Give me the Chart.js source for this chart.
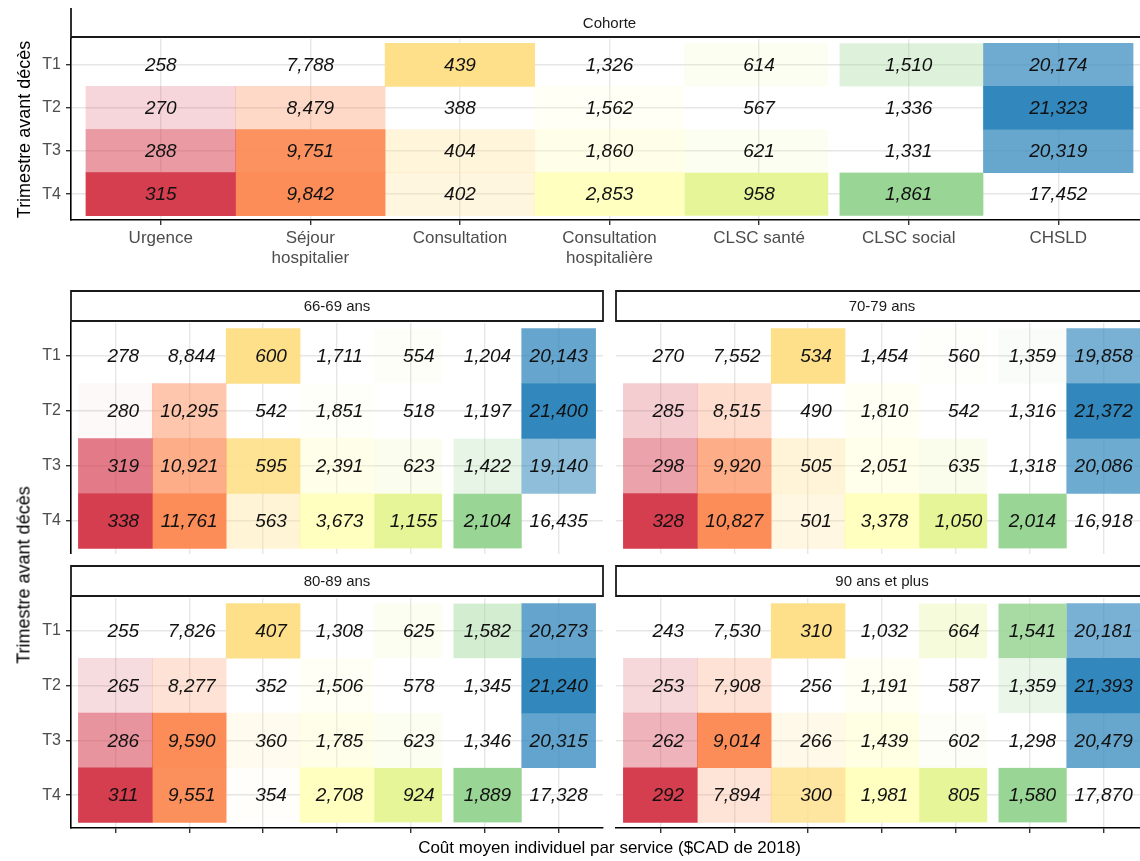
<!DOCTYPE html>
<html lang="fr">
<head>
<meta charset="utf-8">
<title>Coût moyen individuel par service</title>
<script src="https://cdn.jsdelivr.net/npm/chart.js@4.4.1/dist/chart.umd.min.js"></script>
<style>
    html, body { margin: 0; padding: 0; background: #fff; overflow: hidden; width: 1140px; height: 861px; }
    .panneau { position: absolute; }
    .titre { position: absolute; font-family: 'Liberation Sans', Arial, Helvetica, sans-serif; color: #000; white-space: nowrap; }
    #titre-y { left: 24px; top: 575px; font-size: 18px; transform: translate(-50%, -50%) rotate(-90deg); }
    #titre-x { left: 71px; width: 1077px; top: 838px; font-size: 17px; text-align: center; }
</style>
</head>
<body>
<div class="panneau" style="left:0;top:0"><canvas id="cohorte" width="1160" height="272"></canvas></div>
<div class="panneau" style="left:0;top:280px"><canvas id="a6669" width="605" height="274"></canvas></div>
<div class="panneau" style="left:600px;top:280px"><canvas id="a7079" width="560" height="274"></canvas></div>
<div class="panneau" style="left:0;top:555px"><canvas id="a8089" width="605" height="285"></canvas></div>
<div class="panneau" style="left:600px;top:555px"><canvas id="a90" width="560" height="285"></canvas></div>
<div class="titre" id="titre-y">Trimestre avant décès</div>
<div class="titre" id="titre-x">Coût moyen individuel par service ($CAD de 2018)</div>

<script>
// Catégories
const services = ['Urgence', ['Séjour', 'hospitalier'], 'Consultation', ['Consultation', 'hospitalière'], 'CLSC santé', 'CLSC social', 'CHSLD'];
const trimestres = ['T1', 'T2', 'T3', 'T4'];
const couleurs = ['#d53e4f', '#fc8d59', '#fee08b', '#ffffbf', '#e6f598', '#99d594', '#3288bd'];

// Coût moyen par service (une ligne par service, valeurs T1..T4)
const cohorte = [
    [258, 270, 288, 315],
    [7788, 8479, 9751, 9842],
    [439, 388, 404, 402],
    [1326, 1562, 1860, 2853],
    [614, 567, 621, 958],
    [1510, 1336, 1331, 1861],
    [20174, 21323, 20319, 17452]
];
const ans6669 = [
    [278, 280, 319, 338],
    [8844, 10295, 10921, 11761],
    [600, 542, 595, 563],
    [1711, 1851, 2391, 3673],
    [554, 518, 623, 1155],
    [1204, 1197, 1422, 2104],
    [20143, 21400, 19140, 16435]
];
const ans7079 = [
    [270, 285, 298, 328],
    [7552, 8515, 9920, 10827],
    [534, 490, 505, 501],
    [1454, 1810, 2051, 3378],
    [560, 542, 635, 1050],
    [1359, 1316, 1318, 2014],
    [19858, 21372, 20086, 16918]
];
const ans8089 = [
    [255, 265, 286, 311],
    [7826, 8277, 9590, 9551],
    [407, 352, 360, 354],
    [1308, 1506, 1785, 2708],
    [625, 578, 623, 924],
    [1582, 1345, 1346, 1889],
    [20273, 21240, 20315, 17328]
];
const ans90 = [
    [243, 253, 262, 292],
    [7530, 7908, 9014, 7894],
    [310, 256, 266, 300],
    [1032, 1191, 1439, 1981],
    [664, 587, 602, 805],
    [1541, 1359, 1298, 1580],
    [20181, 21393, 20479, 17870]
];

const police = "'Liberation Sans', Arial, Helvetica, sans-serif";

function hexRgb(h) {
    return [1, 3, 5].map(i => parseInt(h.slice(i, i + 2), 16));
}

// intensité relative au min / max de la colonne
function couleurCase(valeurs, k) {
    const col = valeurs[k];
    const min = Math.min(...col), max = Math.max(...col);
    const [r, g, b] = hexRgb(couleurs[k]);
    return ctx => {
        const a = (col[ctx.dataIndex] - min) / (max - min);
        return `rgba(${r},${g},${b},${a.toFixed(3)})`;
    };
}

// Bandeau de facette (2 px au-dessus de la zone du graphique)
const bandeau = {
    id: 'bandeau',
    afterDraw(chart, args, opts) {
        const { ctx, chartArea: ca } = chart;
        const bas = ca.top - 2;
        const haut = bas - opts.hauteur;
        ctx.save();
        ctx.fillStyle = '#fff';
        ctx.fillRect(ca.left, haut, ca.right - ca.left, opts.hauteur);
        ctx.strokeStyle = '#1a1a1a';
        ctx.lineWidth = 1.8;
        ctx.beginPath();
        if (opts.sansHaut) {
            ctx.moveTo(ca.left, haut);
            ctx.lineTo(ca.left, ca.top);
            ctx.moveTo(ca.left, bas);
            ctx.lineTo(ca.right, bas);
        } else {
            ctx.rect(ca.left, haut, ca.right - ca.left, opts.hauteur);
        }
        ctx.stroke();
        ctx.font = `15px ${police}`;
        ctx.fillStyle = '#1a1a1a';
        ctx.textAlign = 'center';
        ctx.textBaseline = 'middle';
        ctx.fillText(opts.texte, (ca.left + ca.right) / 2, haut + opts.hauteur / 2 + 1);
        ctx.restore();
    }
};

// Valeurs écrites dans les cases
const etiquettes = {
    id: 'etiquettes',
    afterDatasetsDraw(chart, args, opts) {
        const ctx = chart.ctx;
        ctx.save();
        ctx.font = `italic 19px ${police}`;
        ctx.fillStyle = '#111';
        ctx.textBaseline = 'middle';
        ctx.textAlign = 'right';
        const espace = ctx.measureText(' ').width;
        chart.data.datasets.forEach((ds, i) => {
            chart.getDatasetMeta(i).data.forEach((el, j) => {
                const t = opts.valeurs[i][j].toLocaleString('en-US');
                let w = ctx.measureText(t).width;
                if (opts.largeur) w += Math.max(0, opts.largeur - t.length) * espace;
                ctx.fillText(t, (el.x + el.base) / 2 + w / 2, el.y + 1);
            });
        });
        ctx.restore();
    }
};

function creerPanneau(id, valeurs, o) {
    const datasets = valeurs.map((col, k) => ({
        data: col.map((v, r) => ({ x: [k + 0.5, k + 1.5], y: r + 1 })),
        backgroundColor: couleurCase(valeurs, k),
        borderColor: 'rgba(255,255,255,0)',
        borderWidth: k === 4 ? { right: 6 } : (k === 5 ? { left: 6 } : 0),
        borderSkipped: false,
        grouped: false,
        barPercentage: 1,
        categoryPercentage: 1
    }));

    return new Chart(document.getElementById(id), {
        type: 'bar',
        data: { datasets },
        options: {
            indexAxis: 'y',
            responsive: false,
            animation: false,
            events: [],
            layout: { padding: { top: o.haut, right: o.droite, left: 0, bottom: 0 } },
            plugins: {
                legend: { display: false },
                tooltip: { enabled: false },
                bandeau: { texte: o.texte, hauteur: o.hauteurBandeau, sansHaut: o.sansHaut },
                etiquettes: { valeurs, largeur: o.largeur }
            },
            scales: {
                x: {
                    type: 'linear',
                    min: 0.4,
                    max: 7.6,
                    offset: false,
                    afterBuildTicks: s => { s.ticks = services.map((_, i) => ({ value: i + 1 })); },
                    afterFit: s => { s.height = o.basX; s.paddingLeft = 0; s.paddingRight = 0; },
                    grid: { offset: false, color: '#e6e6e6', lineWidth: 1.4, drawTicks: o.traitsX, tickLength: 5, tickColor: '#333', tickWidth: 1.4 },
                    border: { display: o.axeX, color: '#000', width: 1.6 },
                    ticks: {
                        display: o.libellesX,
                        callback: v => services[v - 1],
                        color: '#4d4d4d',
                        font: { size: 17, family: police, lineHeight: 1.15 },
                        maxRotation: 0,
                        autoSkip: false,
                        padding: 4
                    }
                },
                y: {
                    type: 'linear',
                    reverse: true,
                    min: 0.4,
                    max: 4.6,
                    offset: false,
                    afterBuildTicks: s => { s.ticks = trimestres.map((_, i) => ({ value: i + 1 })); },
                    afterFit: s => { s.width = o.gaucheY; s.paddingTop = 0; s.paddingBottom = 0; },
                    grid: { offset: false, color: '#e6e6e6', lineWidth: 1.4, drawTicks: o.axeY, tickLength: 5, tickColor: '#333', tickWidth: 1.4 },
                    border: { display: o.axeY, color: '#000', width: 1.6 },
                    ticks: {
                        display: o.axeY,
                        callback: v => trimestres[v - 1],
                        color: '#4d4d4d',
                        font: { size: 16, family: police },
                        padding: 5
                    },
                    title: {
                        display: !!o.titreY,
                        text: 'Trimestre avant décès',
                        color: '#000',
                        font: { size: 18, family: police },
                        padding: { top: 14, bottom: 0 }
                    }
                }
            }
        },
        plugins: [bandeau, etiquettes]
    });
}

creerPanneau('cohorte', cohorte, {
    texte: 'Cohorte', hauteurBandeau: 29, sansHaut: true, haut: 39, droite: 12,
    basX: 52, traitsX: true, axeX: true, libellesX: true, gaucheY: 71, axeY: true, titreY: true
});
creerPanneau('a6669', ans6669, {
    texte: '66-69 ans', hauteurBandeau: 30, haut: 43, droite: 2, largeur: 6,
    basX: 0, traitsX: false, axeX: false, libellesX: false, gaucheY: 71, axeY: true
});
creerPanneau('a7079', ans7079, {
    texte: '70-79 ans', hauteurBandeau: 30, haut: 43, droite: 12, largeur: 6,
    basX: 0, traitsX: false, axeX: false, libellesX: false, gaucheY: 16, axeY: false
});
creerPanneau('a8089', ans8089, {
    texte: '80-89 ans', hauteurBandeau: 30, haut: 43, droite: 2, largeur: 6,
    basX: 12, traitsX: true, axeX: true, libellesX: false, gaucheY: 71, axeY: true
});
creerPanneau('a90', ans90, {
    texte: '90 ans et plus', hauteurBandeau: 30, haut: 43, droite: 12, largeur: 6,
    basX: 12, traitsX: true, axeX: true, libellesX: false, gaucheY: 16, axeY: false
});
</script>
</body>
</html>
